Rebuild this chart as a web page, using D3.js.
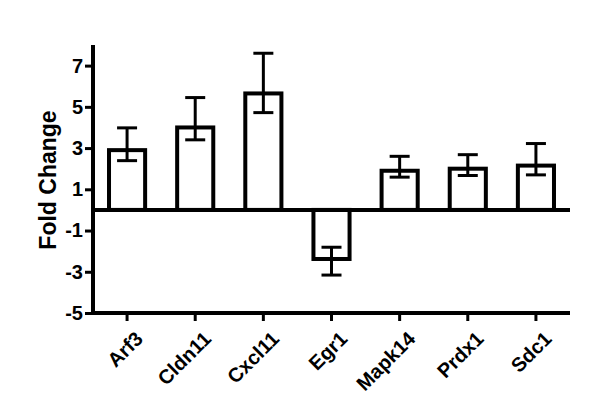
<!DOCTYPE html>
<html>
<head>
<meta charset="utf-8">
<script src="https://cdn.jsdelivr.net/npm/d3@7"></script>
<style>
  body { margin: 0; background: #fff; }
  text { font-family: "Liberation Sans", Arial, sans-serif; font-weight: bold; fill: #000; }
</style>
</head>
<body>
<div id="chart"></div>
<script>
// data
var genes = ["Arf3", "Cldn11", "Cxcl11", "Egr1", "Mapk14", "Prdx1", "Sdc1"];
var foldChange = [2.9, 4.0, 5.65, -2.38, 1.9, 2.0, 2.15];
var errHigh = [3.98, 5.45, 7.6, -1.81, 2.6, 2.68, 3.22];
var errLow = [2.39, 3.4, 4.72, -3.16, 1.59, 1.67, 1.7];
var yTicks = [-5, -3, -1, 1, 3, 5, 7];

var width = 600, height = 418;
var plotLeft = 93, plotRight = 570, plotTop = 45, plotBottom = 313;

var svg = d3.select("#chart").append("svg")
    .attr("width", width)
    .attr("height", height);

var x = d3.scaleBand()
    .domain(genes)
    .range([plotLeft, plotRight])
    .padding(0);

var y = d3.scaleLinear()
    .domain([-5, 8])
    .range([plotBottom, plotTop]);

var barW = x.bandwidth() * 0.53;
var capW = 20;

var rows = genes.map(function (g, i) {
    return { gene: g, value: foldChange[i], hi: errHigh[i], lo: errLow[i] };
});

// bars
svg.append("g").selectAll("rect")
    .data(rows)
    .enter().append("rect")
    .attr("x", function (d) { return x(d.gene) + x.bandwidth() / 2 - barW / 2; })
    .attr("y", function (d) { return y(Math.max(0, d.value)); })
    .attr("width", barW)
    .attr("height", function (d) { return Math.abs(y(d.value) - y(0)); })
    .attr("fill", "#fff")
    .attr("stroke", "#000")
    .attr("stroke-width", 4);

// error bars
var eb = svg.append("g").selectAll("g")
    .data(rows)
    .enter().append("g")
    .attr("stroke", "#000")
    .attr("stroke-width", 3);
eb.append("line")
    .attr("x1", function (d) { return x(d.gene) + x.bandwidth() / 2; })
    .attr("x2", function (d) { return x(d.gene) + x.bandwidth() / 2; })
    .attr("y1", function (d) { return y(d.hi); })
    .attr("y2", function (d) { return y(d.lo); });
eb.append("line")
    .attr("x1", function (d) { return x(d.gene) + x.bandwidth() / 2 - capW / 2; })
    .attr("x2", function (d) { return x(d.gene) + x.bandwidth() / 2 + capW / 2; })
    .attr("y1", function (d) { return y(d.hi); })
    .attr("y2", function (d) { return y(d.hi); });
eb.append("line")
    .attr("x1", function (d) { return x(d.gene) + x.bandwidth() / 2 - capW / 2; })
    .attr("x2", function (d) { return x(d.gene) + x.bandwidth() / 2 + capW / 2; })
    .attr("y1", function (d) { return y(d.lo); })
    .attr("y2", function (d) { return y(d.lo); });

// zero line
svg.append("line")
    .attr("x1", plotLeft).attr("x2", plotRight)
    .attr("y1", y(0)).attr("y2", y(0))
    .attr("stroke", "#000")
    .attr("stroke-width", 4);

// y axis
var yAxis = svg.append("g")
    .attr("transform", "translate(" + plotLeft + ",0)")
    .call(d3.axisLeft(y).tickValues(yTicks).tickSize(8).tickPadding(2).tickSizeOuter(0)
        .tickFormat(function (d) { return String(d); }));
yAxis.select(".domain").remove();
yAxis.selectAll(".tick line").attr("stroke", "#000").attr("stroke-width", 3);
yAxis.selectAll("text").style("font-size", "20px").attr("font-family", null);
svg.append("line")
    .attr("x1", plotLeft).attr("x2", plotLeft)
    .attr("y1", plotTop).attr("y2", plotBottom + 2)
    .attr("stroke", "#000").attr("stroke-width", 4);

// x axis
var xAxis = svg.append("g")
    .attr("transform", "translate(0," + plotBottom + ")")
    .call(d3.axisBottom(x).tickSize(8).tickSizeOuter(0));
xAxis.select(".domain").remove();
xAxis.selectAll(".tick line").attr("stroke", "#000").attr("stroke-width", 3);
xAxis.selectAll("text")
    .style("font-size", "20px")
    .attr("font-family", null)
    .attr("text-anchor", "end")
    .attr("x", 0).attr("y", 0).attr("dy", "0.71em")
    .attr("transform", "translate(7,17) rotate(-45)");
svg.append("line")
    .attr("x1", plotLeft - 2).attr("x2", plotRight)
    .attr("y1", plotBottom).attr("y2", plotBottom)
    .attr("stroke", "#000").attr("stroke-width", 4);

// y label
svg.append("text")
    .attr("transform", "translate(56," + ((plotTop + plotBottom) / 2 + 1) + ") rotate(-90)")
    .attr("text-anchor", "middle")
    .style("font-size", "23px")
    .text("Fold Change");
</script>
</body>
</html>
